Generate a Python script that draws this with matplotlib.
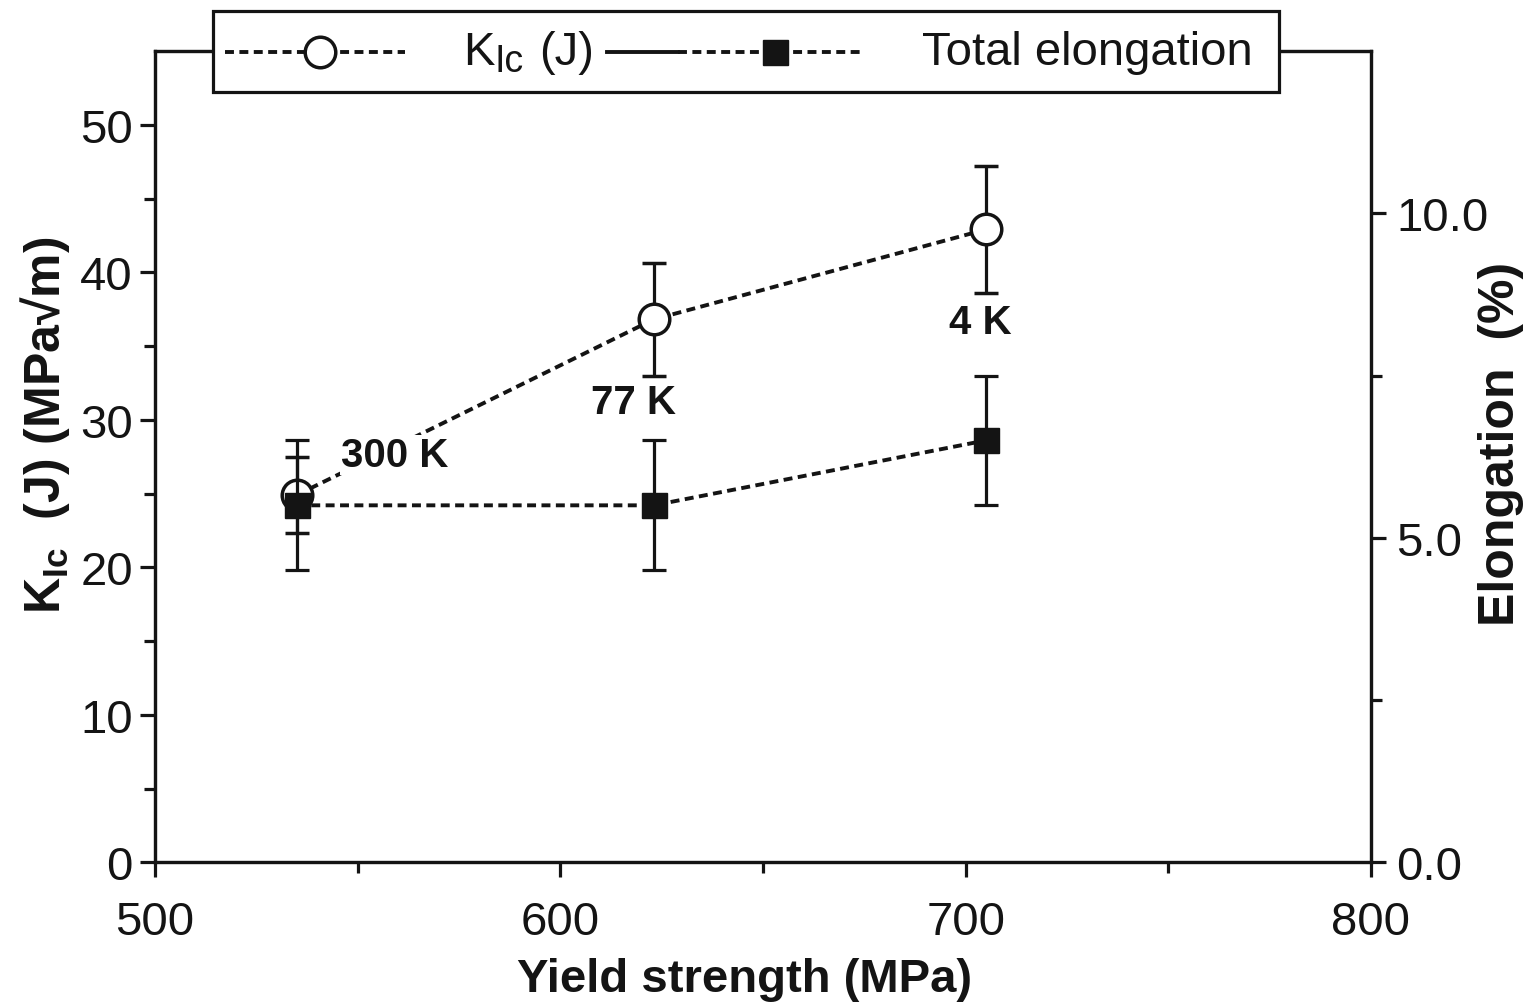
import matplotlib
matplotlib.use('Agg')
import matplotlib.pyplot as plt
from matplotlib.lines import Line2D
from matplotlib.patches import Rectangle
from matplotlib.ticker import FixedLocator

plt.rcParams['font.family'] = ['Liberation Sans', 'DejaVu Sans']
plt.rcParams['mathtext.fontset'] = 'custom'
plt.rcParams['mathtext.rm'] = 'Liberation Sans'
plt.rcParams['mathtext.bf'] = 'Liberation Sans:bold'

# ---- data ----
temperatures = ['300 K', '77 K', '4 K']
yield_strength = [535, 623, 705]          # MPa
kic = [24.9, 36.8, 42.9]                  # MPa sqrt(m)
kic_err = [2.6, 3.8, 4.3]
elongation = [5.5, 5.5, 6.5]              # %
elongation_err = [1.0, 1.0, 1.0]

x_ticks = [500, 600, 700, 800]
x_minor = [550, 650, 750]
k_ticks = [0, 10, 20, 30, 40, 50]
k_minor = [5, 15, 25, 35, 45]
e_ticks = [0.0, 5.0, 10.0]
e_tick_labels = ['0.0', '5.0', '10.0']
e_minor = [2.5, 7.5]

# annotation placement (data coords of left axis)
ann_pos = [(546, 27.6, 'left'), (618, 31.2, 'center'), (703.5, 36.6, 'center')]

ink = '#141414'
dots = (0, (2.3, 1.4))

fig = plt.figure(figsize=(15.3, 10.03), dpi=100)
ax = fig.add_axes([155/1530, 1-863.3/1003, (1371-155)/1530, (863.3-52)/1003])
ax2 = ax.twinx()

ax.errorbar(yield_strength, kic, yerr=kic_err, marker='o', ms=22, mfc='white',
            mec=ink, mew=2.5, color=ink, ls=dots, lw=2.8, ecolor=ink,
            elinewidth=2.3, capsize=8.5, capthick=2.3, zorder=3)
ax2.errorbar(yield_strength, elongation, yerr=elongation_err, marker='s', ms=18,
             mfc=ink, mec=ink, color=ink, ls=dots, lw=2.8, ecolor=ink,
             elinewidth=2.3, capsize=8.5, capthick=2.3, zorder=3)

for (tx, ty, ha), lab in zip(ann_pos, temperatures):
    ax.text(tx, ty, lab, fontsize=29, fontweight='bold', ha=ha, va='center', color=ink,
            zorder=6, bbox=dict(facecolor='white', edgecolor='none', pad=1.0))

ax.set_xlim(500, 800)
ax.set_ylim(0, 55)
ax2.set_ylim(0, 12.5)
ax.set_xticks(x_ticks)
ax.xaxis.set_minor_locator(FixedLocator(x_minor))
ax.set_yticks(k_ticks)
ax.yaxis.set_minor_locator(FixedLocator(k_minor))
ax2.set_yticks(e_ticks)
ax2.set_yticklabels(e_tick_labels)
ax2.yaxis.set_minor_locator(FixedLocator(e_minor))

for a in (ax, ax2):
    for s in a.spines.values():
        s.set_linewidth(2.3)
        s.set_color(ink)
ax.tick_params(axis='both', which='major', direction='out', length=11, width=2.3,
               labelsize=34, colors=ink)
ax.tick_params(axis='both', which='minor', direction='out', length=8, width=2.3, colors=ink)
ax.tick_params(axis='x', which='major', pad=16)
ax.tick_params(axis='y', which='major', pad=5)
ax2.tick_params(axis='y', which='major', direction='out', length=11, width=2.3,
                labelsize=34, colors=ink, pad=7)
ax2.tick_params(axis='y', which='minor', direction='out', length=8, width=2.3, colors=ink)

ax.set_xlabel('Yield strength (MPa)', fontsize=34, fontweight='bold', color=ink)
ax.xaxis.set_label_coords(0.485, -0.117)
ax.set_ylabel(r'K$_{\mathbf{Ic}}$  (J) (MPa√m)', fontsize=36, fontweight='bold', color=ink)
ax.yaxis.set_label_coords(-0.068, 0.540)
ax2.set_ylabel('Elongation  (%)', fontsize=36, fontweight='bold', color=ink)
ax2.yaxis.set_label_coords(1.0880, 0.517)

# ---- legend box (figure coords) ----
def fx(px):
    return px / 1530
def fy(py):
    return 1 - py / 1003

rect = Rectangle((fx(213), fy(93)), fx(1279) - fx(213), fy(12) - fy(93),
                 transform=fig.transFigure, facecolor='white', edgecolor=ink,
                 lw=2.3, zorder=10)
fig.add_artist(rect)
ly = fy(53)
for art in [
    Line2D([fx(225), fx(405)], [ly, ly], ls=dots, lw=2.8, color=ink),
    Line2D([fx(320)], [ly], marker='o', ms=22, mfc='white', mec=ink, mew=2.5, ls='none'),
    Line2D([fx(607), fx(678)], [ly, ly], ls='-', lw=2.8, color=ink),
    Line2D([fx(678), fx(864)], [ly, ly], ls=dots, lw=2.8, color=ink),
    Line2D([fx(775)], [ly], marker='s', ms=18, mfc=ink, mec=ink, ls='none'),
]:
    art.set_transform(fig.transFigure)
    art.set_zorder(11)
    fig.add_artist(art)

fig.text(fx(463), fy(65), 'K', fontsize=34, color=ink, ha='left', va='baseline', zorder=12)
fig.text(fx(495), fy(72), 'Ic', fontsize=27, color=ink, ha='left', va='baseline', zorder=12)
fig.text(fx(539), fy(65), '(J)', fontsize=34, color=ink, ha='left', va='baseline', zorder=12)
fig.text(fx(922), fy(65), 'Total elongation', fontsize=34, color=ink,
         ha='left', va='baseline', zorder=12)

fig.savefig('out.png', dpi=100, facecolor='white')
